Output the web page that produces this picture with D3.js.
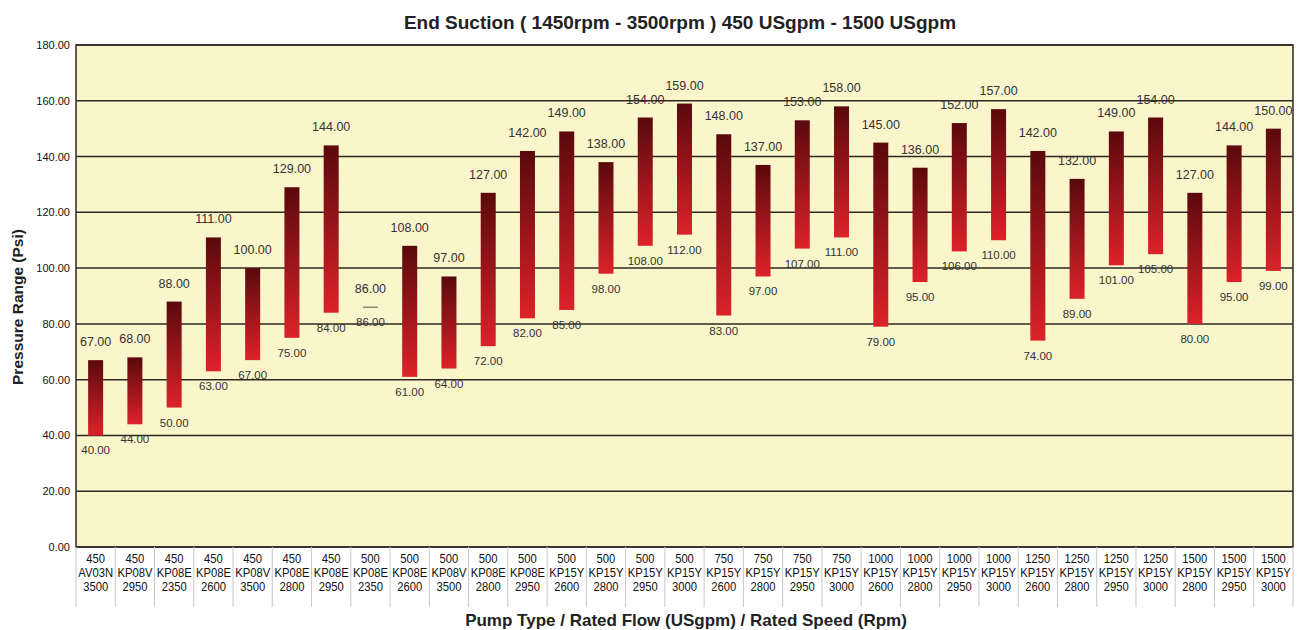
<!DOCTYPE html>
<html>
<head>
<meta charset="utf-8">
<script src="https://cdn.jsdelivr.net/npm/d3@7"></script>
<style>
  body { margin: 0; background: #fff; }
  text { font-family: "Liberation Sans", Arial, sans-serif; }
</style>
</head>
<body>
<div id="chart"></div>
<script>
// data
const flows  = ["450","450","450","450","450","450","450","500","500","500","500","500","500","500","500","500",
                "750","750","750","750","1000","1000","1000","1000","1250","1250","1250","1250","1500","1500","1500"];
const models = ["AV03N","KP08V","KP08E","KP08E","KP08V","KP08E","KP08E","KP08E","KP08E","KP08V","KP08E","KP08E",
                "KP15Y","KP15Y","KP15Y","KP15Y","KP15Y","KP15Y","KP15Y","KP15Y","KP15Y","KP15Y","KP15Y","KP15Y",
                "KP15Y","KP15Y","KP15Y","KP15Y","KP15Y","KP15Y","KP15Y"];
const speeds = ["3500","2950","2350","2600","3500","2800","2950","2350","2600","3500","2800","2950","2600","2800","2950","3000",
                "2600","2800","2950","3000","2600","2800","2950","3000","2600","2800","2950","3000","2800","2950","3000"];
const lowPsi  = [40,44,50,63,67,75,84,86,61,64,72,82,85,98,108,112,83,97,107,111,79,95,106,110,74,89,101,105,80,95,99];
const highPsi = [67,68,88,111,100,129,144,86,108,97,127,142,149,138,154,159,148,137,153,158,145,136,152,157,142,132,149,154,127,144,150];
const yTicks = [0,20,40,60,80,100,120,140,160,180];

const width = 1299, height = 630;
const margin = {top: 45, right: 6, bottom: 83, left: 76};
const innerW = width - margin.left - margin.right;
const innerH = height - margin.top - margin.bottom;

const svg = d3.select("#chart").append("svg")
    .attr("width", width)
    .attr("height", height);

const defs = svg.append("defs");
const grad = defs.append("linearGradient")
    .attr("id", "barGrad")
    .attr("x1", 0).attr("y1", 0).attr("x2", 0).attr("y2", 1);
grad.append("stop").attr("offset", "0%").attr("stop-color", "#5a090c");
grad.append("stop").attr("offset", "100%").attr("stop-color", "#dc2229");

const idx = d3.range(flows.length);
const x = d3.scaleBand().domain(idx).range([0, innerW]);
const y = d3.scaleLinear().domain([0, 180]).range([innerH, 0]);

const g = svg.append("g").attr("transform", `translate(${margin.left},${margin.top})`);

// plot background
g.append("rect")
    .attr("width", innerW).attr("height", innerH)
    .attr("fill", "#faf5cb");

// gridlines
g.append("g").selectAll("line")
    .data(yTicks)
    .enter().append("line")
    .attr("x1", 0).attr("x2", innerW)
    .attr("y1", d => y(d)).attr("y2", d => y(d))
    .attr("stroke", "#2e2a22").attr("stroke-width", 1.5);

// border
g.append("rect")
    .attr("width", innerW).attr("height", innerH)
    .attr("fill", "none").attr("stroke", "#2e2a22").attr("stroke-width", 1.5);

// y axis labels
const yAxis = g.append("g")
    .call(d3.axisLeft(y).tickValues(yTicks).tickFormat(d3.format(".2f")).tickSize(0).tickPadding(6));
yAxis.select(".domain").remove();
yAxis.selectAll("text").attr("font-size", 11).attr("fill", "#111")
    .style("font-family", "'Liberation Sans', Arial, sans-serif");

// bars
const barW = 15;
g.append("g").selectAll("rect")
    .data(idx)
    .enter().append("rect")
    .attr("x", i => x(i) + x.bandwidth() / 2 - barW / 2)
    .attr("y", i => y(highPsi[i]))
    .attr("width", barW)
    .attr("height", i => Math.max(0, y(lowPsi[i]) - y(highPsi[i])))
    .attr("fill", "url(#barGrad)");

// zero-height ranges drawn as a thin dash
g.append("g").selectAll("line")
    .data(idx.filter(i => highPsi[i] === lowPsi[i]))
    .enter().append("line")
    .attr("x1", i => x(i) + x.bandwidth() / 2 - barW / 2)
    .attr("x2", i => x(i) + x.bandwidth() / 2 + barW / 2)
    .attr("y1", i => y(lowPsi[i])).attr("y2", i => y(lowPsi[i]))
    .attr("stroke", "#555").attr("stroke-width", 1);

// value labels
g.append("g").selectAll("text")
    .data(idx)
    .enter().append("text")
    .attr("x", i => x(i) + x.bandwidth() / 2)
    .attr("y", i => y(highPsi[i]) - 14)
    .attr("text-anchor", "middle")
    .attr("font-size", 12.5)
    .attr("fill", "#333")
    .text(i => highPsi[i].toFixed(2));

g.append("g").selectAll("text")
    .data(idx)
    .enter().append("text")
    .attr("x", i => x(i) + x.bandwidth() / 2)
    .attr("y", i => y(lowPsi[i]) + 19)
    .attr("text-anchor", "middle")
    .attr("font-size", 11.5)
    .attr("fill", "#333")
    .text(i => lowPsi[i].toFixed(2));

// category table below the plot
const table = g.append("g").attr("transform", `translate(0,${innerH})`);
table.selectAll("line")
    .data(d3.range(flows.length + 1))
    .enter().append("line")
    .attr("x1", i => i * x.step()).attr("x2", i => i * x.step())
    .attr("y1", 0).attr("y2", 60)
    .attr("stroke", "#c8c8c8").attr("stroke-width", 1);

const cells = table.selectAll("g.cell")
    .data(idx)
    .enter().append("g")
    .attr("class", "cell")
    .attr("transform", i => `translate(${x(i) + x.bandwidth() / 2},0) scale(0.9,1)`);

[flows, models, speeds].forEach((arr, row) => {
    cells.append("text")
        .attr("y", 16 + row * 14)
        .attr("text-anchor", "middle")
        .attr("font-size", 12.5)
        .attr("fill", "#111")
        .text(i => arr[i]);
});

// titles
svg.append("text")
    .attr("x", 680).attr("y", 29)
    .attr("text-anchor", "middle")
    .attr("font-size", 19).attr("font-weight", "bold").attr("fill", "#222")
    .text("End Suction ( 1450rpm - 3500rpm ) 450 USgpm - 1500 USgpm");

svg.append("text")
    .attr("transform", `translate(23,307) rotate(-90)`)
    .attr("text-anchor", "middle")
    .attr("font-size", 15.5).attr("font-weight", "bold").attr("fill", "#222")
    .text("Pressure Range (Psi)");

svg.append("text")
    .attr("x", 686).attr("y", 626)
    .attr("text-anchor", "middle")
    .attr("font-size", 17).attr("font-weight", "bold").attr("fill", "#222")
    .text("Pump Type / Rated Flow (USgpm) / Rated Speed (Rpm)");
</script>
</body>
</html>
